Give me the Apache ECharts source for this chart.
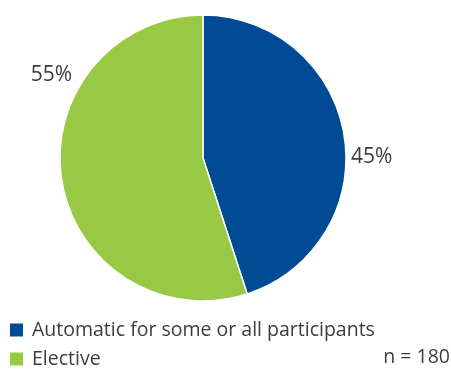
<!DOCTYPE html>
<html>
<head>
<meta charset="utf-8">
<script src="https://cdn.jsdelivr.net/npm/echarts@6/dist/echarts.min.js"></script>
<style>
  html, body { margin: 0; padding: 0; background: #fff; }
  #chart { width: 451px; height: 369px; }
</style>
</head>
<body>
<div id="chart"></div>
<script>
// Enrolment type shares
const categories = ['Automatic for some or all participants', 'Elective'];
const values = [45, 55];
const colors = ['#004b93', '#97c945'];
const sampleNote = 'n = 180';

// Label anchor points (px) for each slice's percentage
const labelSpots = [
  { x: 351, y: 157, align: 'left' },
  { x: 72, y: 75, align: 'right' }
];
// Top offset (px) of each legend row
const legendRowTops = [320, 349];

const FONT = '"Open Sans", sans-serif';
const TEXT = '#3c3c3c';

const chart = echarts.init(document.getElementById('chart'), null, { renderer: 'canvas' });

// One legend block per row so the rows stack under the pie
const legends = categories.map((name, i) => ({
  orient: 'vertical',
  left: 10,
  top: legendRowTops[i],
  padding: 0,
  icon: 'rect',
  itemWidth: 13,
  itemHeight: 13,
  selectedMode: false,
  itemStyle: { borderWidth: 0 },
  textStyle: { fontFamily: FONT, fontSize: 19.5, lineHeight: 18, color: TEXT, padding: [0, 0, 0, 4] },
  data: [name]
}));

chart.setOption({
  animation: false,
  color: colors,
  legend: legends,
  graphic: [{
    type: 'text',
    right: 1,
    top: 347,
    style: { text: sampleNote, font: '19.5px ' + FONT, fill: TEXT }
  }],
  series: [{
    type: 'pie',
    center: [203, 158],
    radius: [0, 143],
    startAngle: 90,
    clockwise: true,
    avoidLabelOverlap: false,
    itemStyle: { borderColor: '#fff', borderWidth: 1.5 },
    labelLine: { show: false, length: 0, length2: 0 },
    label: {
      show: true,
      position: 'outside',
      formatter: '{d}%',
      fontFamily: FONT,
      fontSize: 21,
      color: TEXT
    },
    labelLayout: function (p) {
      const s = labelSpots[p.dataIndex];
      return { x: s.x, y: s.y, align: s.align, verticalAlign: 'middle' };
    },
    data: categories.map((c, i) => ({ name: c, value: values[i] }))
  }]
});
</script>
</body>
</html>
